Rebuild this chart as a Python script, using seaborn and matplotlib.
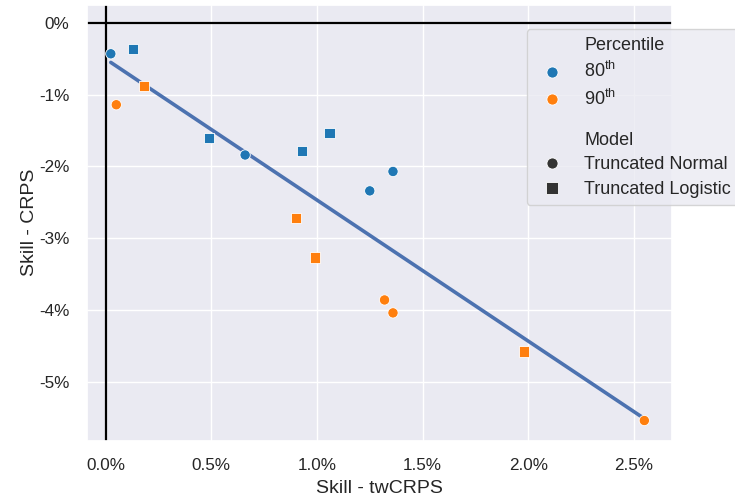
import numpy as np
import pandas as pd
import matplotlib
matplotlib.use("Agg")
import matplotlib.pyplot as plt
from matplotlib.ticker import FuncFormatter
from matplotlib.lines import Line2D
import seaborn as sns

# Data (percent units)
percentile = ["80$^{\\mathrm{th}}$"] * 8 + ["90$^{\\mathrm{th}}$"] * 8
model = (["Truncated Normal"] * 4 + ["Truncated Logistic"] * 4) * 2
skill_twcrps = [0.024, 0.66, 1.25, 1.36, 0.13, 0.49, 0.93, 1.06,
                0.05, 1.32, 1.36, 2.55, 0.18, 0.90, 0.99, 1.98]
skill_crps = [-0.43, -1.84, -2.34, -2.07, -0.36, -1.60, -1.78, -1.53,
              -1.14, -3.86, -4.04, -5.54, -0.88, -2.72, -3.27, -4.58]
colors = ["#1f77b4", "#ff7f0e"]

df = pd.DataFrame({"Percentile": percentile, "Model": model,
                   "twCRPS": skill_twcrps, "CRPS": skill_crps})

sns.set_theme(style="darkgrid", font_scale=1.12)
plt.rcParams["font.family"] = ["Liberation Sans", "DejaVu Sans"]
plt.rcParams["mathtext.fontset"] = "custom"
plt.rcParams["mathtext.rm"] = "Liberation Sans"
plt.rcParams["mathtext.it"] = "Liberation Sans"

fig, ax = plt.subplots(figsize=(7.35, 4.99), dpi=100)
fig.subplots_adjust(left=0.118, right=0.914, top=0.99, bottom=0.117)

ax.axhline(0, color="black", lw=1.6, zorder=1)
ax.axvline(0, color="black", lw=1.6, zorder=1)

sns.regplot(data=df, x="twCRPS", y="CRPS", scatter=False, ci=None,
            color="#4C72B0", line_kws={"lw": 2.6}, ax=ax)
sns.scatterplot(data=df, x="twCRPS", y="CRPS", hue="Percentile", style="Model",
                palette=colors, markers=["o", "s"], s=55,
                ax=ax, zorder=3, legend=False)

ax.set_xlim(-0.09, 2.68)
ax.set_ylim(-5.82, 0.25)
ax.xaxis.set_major_formatter(FuncFormatter(lambda v, p: f"{v:.1f}%"))
ax.yaxis.set_major_formatter(FuncFormatter(lambda v, p: f"{v:.0f}%"))
ax.tick_params(axis="both", pad=6.5)
ax.set_xlabel("Skill - twCRPS", fontsize=14, labelpad=5)
ax.set_ylabel("Skill - CRPS", fontsize=14, labelpad=1)

blank = Line2D([], [], linestyle="none", marker=None)
def mk(marker, color):
    return Line2D([], [], linestyle="none", marker=marker, color=color,
                  markeredgecolor="white", markeredgewidth=0.6, markersize=8)
handles = [blank, mk("o", colors[0]), mk("o", colors[1]),
           blank, mk("o", ".2"), mk("s", ".2")]
labels = ["Percentile", "80$^{\\mathrm{th}}$", "90$^{\\mathrm{th}}$",
          "\nModel", "Truncated Normal", "Truncated Logistic"]
leg = ax.legend(handles, labels, loc="upper left", bbox_to_anchor=(0.752, 0.944),
                borderaxespad=0, fontsize=13, labelspacing=0.42, handletextpad=0.8,
                handleheight=0.5)
leg.get_texts()[3].set_linespacing(0.85)

fig.savefig("out.png", dpi=100)
